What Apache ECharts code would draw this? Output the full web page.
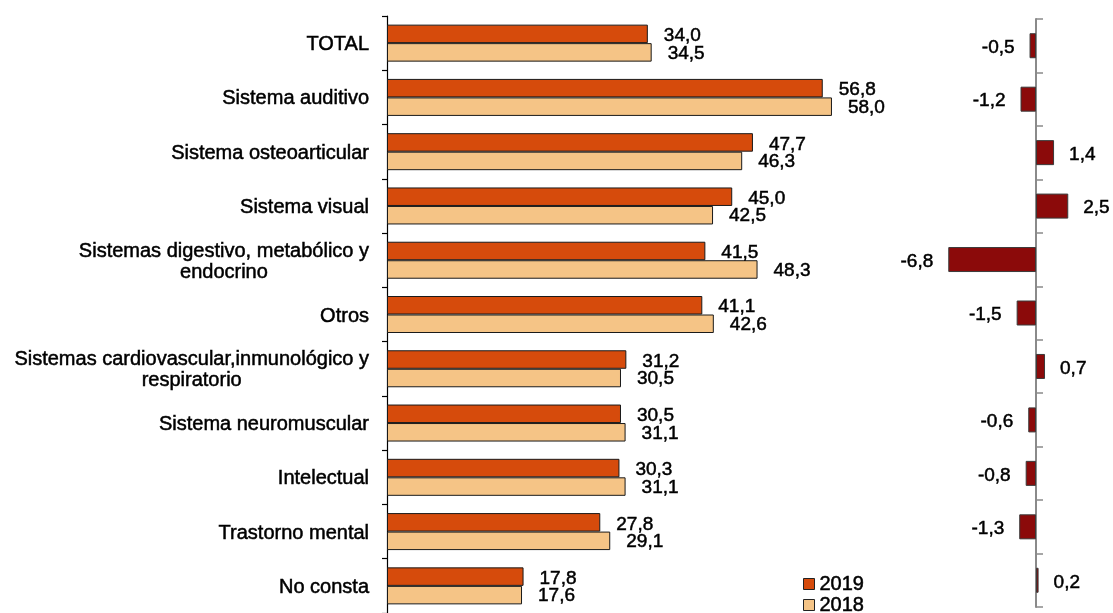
<!DOCTYPE html>
<html>
<head>
<meta charset="utf-8">
<script src="https://cdn.jsdelivr.net/npm/echarts@6/dist/echarts.min.js"></script>
<style>
html,body{margin:0;padding:0;background:#fff;}
#chart{width:1113px;height:613px;}
</style>
</head>
<body>
<div id="chart"></div>
<script>
const categories = [
  'TOTAL',
  'Sistema auditivo',
  'Sistema osteoarticular',
  'Sistema visual',
  'Sistemas digestivo, metabólico y\nendocrino',
  'Otros',
  'Sistemas cardiovascular,inmunológico y\nrespiratorio',
  'Sistema neuromuscular',
  'Intelectual',
  'Trastorno mental',
  'No consta'
];
const values2019 = [34.0, 56.8, 47.7, 45.0, 41.5, 41.1, 31.2, 30.5, 30.3, 27.8, 17.8];
const values2018 = [34.5, 58.0, 46.3, 42.5, 48.3, 42.6, 30.5, 31.1, 31.1, 29.1, 17.6];
const differences = [-0.5, -1.2, 1.4, 2.5, -6.8, -1.5, 0.7, -0.6, -0.8, -1.3, 0.2];
const seriesNames = ['2019', '2018'];

const FONT = '"Liberation Sans", Arial, sans-serif';
const fmt = v => v.toFixed(1).replace('.', ',');
const TB = {textBorderColor: '#000', textBorderWidth: 0.5};

const legendBase = {
  orient: 'vertical',
  left: 803,
  padding: 0,
  itemWidth: 11,
  itemHeight: 11,
  icon: 'rect',
  itemStyle: {borderColor: '#222', borderWidth: 1},
  textStyle: Object.assign({fontFamily: FONT, fontSize: 20, lineHeight: 20, color: '#000', padding: [2, 0, 0, 0]}, TB)
};

const chart = echarts.init(document.getElementById('chart'), null, {renderer: 'canvas'});
chart.setOption({
  animation: false,
  backgroundColor: '#ffffff',
  textStyle: {fontFamily: FONT},
  legend: [
    Object.assign({}, legendBase, {top: 573, data: [seriesNames[0]]}),
    Object.assign({}, legendBase, {top: 594, data: [seriesNames[1]]})
  ],
  grid: [
    {left: 387, top: 16, width: 460.3, height: 601, containLabel: false},
    {left: 932.8, top: 19, width: 154.8, height: 588, containLabel: false}
  ],
  xAxis: [
    {gridIndex: 0, type: 'value', min: 0, max: 60, show: false},
    {gridIndex: 1, type: 'value', min: -8, max: 4, show: false}
  ],
  yAxis: [
    {
      gridIndex: 0, type: 'category', data: categories, inverse: true,
      axisLine: {show: true, lineStyle: {color: '#000', width: 1.2}},
      axisTick: {show: true, length: 5, lineStyle: {color: '#000', width: 1.2}},
      splitLine: {show: false},
      axisLabel: {
        margin: 18, color: '#000', fontFamily: FONT, fontSize: 20,
        formatter: v => v.split('\n').map(s => '{c|' + s + '}').join('\n'),
        rich: {c: Object.assign({align: 'center', fontFamily: FONT, fontSize: 20, lineHeight: 21, color: '#000', padding: [3, 0, 0, 0]}, TB)}
      }
    },
    {
      gridIndex: 1, type: 'category', data: categories, inverse: true,
      axisLine: {show: true, onZero: true, lineStyle: {color: '#8a8a8a', width: 2}},
      axisTick: {show: true, inside: true, length: 7, lineStyle: {color: '#8a8a8a', width: 1.5}},
      axisLabel: {show: false},
      splitLine: {show: false}
    }
  ],
  series: [
    {
      name: seriesNames[0], type: 'bar', xAxisIndex: 0, yAxisIndex: 0,
      data: values2019, barWidth: 18.5, barGap: '0%',
      itemStyle: {color: '#D64B0C', borderColor: '#1a1a1a', borderWidth: 1},
      label: Object.assign({show: true, position: 'right', distance: 16, offset: [0, 2], color: '#000', fontFamily: FONT, fontSize: 19,
        formatter: p => fmt(p.value)}, TB)
    },
    {
      name: seriesNames[1], type: 'bar', xAxisIndex: 0, yAxisIndex: 0,
      data: values2018, barWidth: 18.5, barGap: '0%',
      itemStyle: {color: '#F5C486', borderColor: '#1a1a1a', borderWidth: 1},
      label: Object.assign({show: true, position: 'right', distance: 16, offset: [0, 1], color: '#000', fontFamily: FONT, fontSize: 19,
        formatter: p => fmt(p.value)}, TB)
    },
    {
      name: 'Diferencia', type: 'bar', xAxisIndex: 1, yAxisIndex: 1,
      data: differences.map(v => ({
        value: v,
        label: {position: v < 0 ? 'left' : 'right'}
      })),
      barWidth: 25,
      itemStyle: {color: '#8B0A0A', borderColor: '#3a3a3a', borderWidth: 1},
      label: Object.assign({show: true, distance: 15, offset: [0, 2], color: '#000', fontFamily: FONT, fontSize: 19,
        formatter: p => fmt(p.value)}, TB)
    }
  ]
});
</script>
</body>
</html>
